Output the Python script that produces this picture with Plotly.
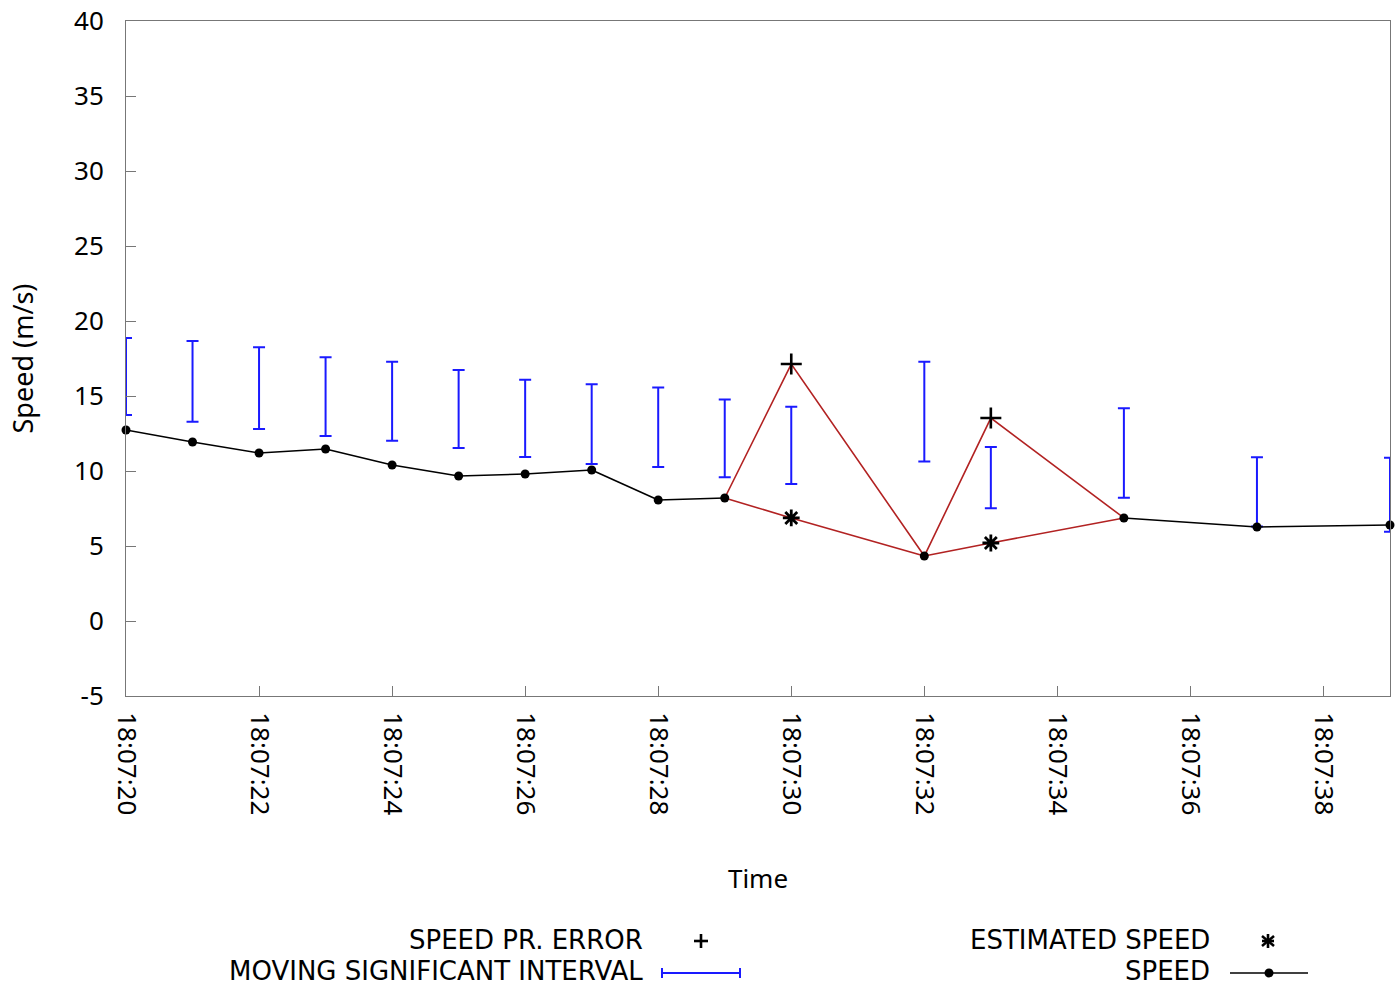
import plotly.graph_objects as go

# Time in seconds after 18:07:00
speed_t = [20, 21, 22, 23, 24, 25, 26, 27, 28, 29, 32, 35, 37, 39]
speed_v = [12.73, 11.93, 11.2, 11.47, 10.4, 9.67, 9.8, 10.07, 8.07, 8.2, 4.33, 6.87, 6.27, 6.4]

# Samples flagged as speed errors and the estimates that replace them
err_t = [30, 33]
err_v = [17.13, 13.53]
est_v = [6.87, 5.2]

# Moving significant interval (upper / lower bound)
int_t = [20, 21, 22, 23, 24, 25, 26, 27, 28, 29, 30, 32, 33, 35, 37, 39]
int_hi = [18.87, 18.67, 18.25, 17.58, 17.29, 16.73, 16.09, 15.78, 15.56, 14.76,
          14.29, 17.29, 11.6, 14.18, 10.91, 10.89]
int_lo = [13.73, 13.29, 12.8, 12.33, 12.02, 11.53, 10.93, 10.47, 10.27, 9.58,
          9.13, 10.64, 7.51, 8.22, 6.3, 5.95]

x_tickvals = [20, 22, 24, 26, 28, 30, 32, 34, 36, 38]
x_ticktext = ["18:07:20", "18:07:22", "18:07:24", "18:07:26", "18:07:28",
              "18:07:30", "18:07:32", "18:07:34", "18:07:36", "18:07:38"]
y_tickvals = [-5, 0, 5, 10, 15, 20, 25, 30, 35, 40]
y_ticktext = ["-5", "0", "5", "10", "15", "20", "25", "30", "35", "40"]

W, H = 1395, 987
FONT = "Noto Sans"
KEY_FONT = "DejaVu Sans"
BLUE = "#1a1aff"
RED = "#b22222"

fig = go.Figure()

# Intervals: vertical bars with caps from lower to upper bound
fig.add_trace(go.Scatter(
    x=int_t, y=int_lo, mode="markers",
    marker=dict(size=1, opacity=0),
    error_y=dict(type="data", array=[h - l for h, l in zip(int_hi, int_lo)],
                 arrayminus=[0] * len(int_t), symmetric=False,
                 color=BLUE, thickness=2, width=6),
    cliponaxis=True, showlegend=False, hoverinfo="skip"))

# Split the speed series: normal segments in black, corrected spans in red
black_x, black_y, red_x, red_y = [], [], [], []
for i in range(len(speed_t) - 1):
    t0, t1 = speed_t[i], speed_t[i + 1]
    inside = [k for k, t in enumerate(err_t) if t0 < t < t1]
    if inside:
        k = inside[0]
        for mid in (err_v[k], est_v[k]):
            red_x += [t0, err_t[k], t1, None]
            red_y += [speed_v[i], mid, speed_v[i + 1], None]
    else:
        black_x += [t0, t1, None]
        black_y += [speed_v[i], speed_v[i + 1], None]

fig.add_trace(go.Scatter(x=red_x, y=red_y, mode="lines",
                         line=dict(color=RED, width=1.6),
                         showlegend=False, hoverinfo="skip"))
fig.add_trace(go.Scatter(x=black_x, y=black_y, mode="lines",
                         line=dict(color="black", width=1.6),
                         showlegend=False, hoverinfo="skip"))
fig.add_trace(go.Scatter(x=speed_t, y=speed_v, mode="markers",
                         marker=dict(color="black", size=9),
                         cliponaxis=False, showlegend=False))
fig.add_trace(go.Scatter(x=err_t, y=err_v, mode="markers",
                         marker=dict(symbol="cross-thin-open", size=15, color="black",
                                     line=dict(color="black", width=2.6)),
                         cliponaxis=False, showlegend=False))
fig.add_trace(go.Scatter(x=err_t, y=est_v, mode="markers",
                         marker=dict(symbol="asterisk-open", size=14, color="black",
                                     line=dict(color="black", width=2.8)),
                         cliponaxis=False, showlegend=False))

x0, x1 = 126 / W, 1390 / W
y0, y1 = 1 - 696 / H, 1 - 21 / H

axis_common = dict(showgrid=False, zeroline=False, showline=True, mirror=True,
                   linecolor="#777777", linewidth=1, ticks="inside", ticklen=10,
                   tickcolor="#777777", tickwidth=1,
                   tickfont=dict(family=FONT, size=26, color="black"))

fig.update_layout(
    width=W, height=H,
    margin=dict(l=0, r=0, t=0, b=0),
    paper_bgcolor="white", plot_bgcolor="white",
    xaxis=dict(domain=[x0, x1], range=[20, 39], tickmode="array",
               tickvals=x_tickvals, ticktext=x_ticktext, tickangle=90,
               ticklabelstandoff=10, automargin=False,
               title=dict(text="Time", font=dict(family=FONT, size=26, color="black"),
                          standoff=55),
               **axis_common),
    yaxis=dict(domain=[y0, y1], range=[-5, 40], tickmode="array",
               tickvals=y_tickvals, ticktext=y_ticktext,
               ticklabelstandoff=16, automargin=False,
               title=dict(text="Speed (m/s)", font=dict(family=FONT, size=27, color="black"),
                          standoff=32),
               **axis_common),
)

# Key below the chart: right-aligned labels with their symbol samples
def px(x):
    return x / W


def py(y):
    return 1 - y / H


legend_font = dict(family=KEY_FONT, size=26, color="black")
for text, xr, yc in [("SPEED PR. ERROR", 645, 940),
                     ("MOVING SIGNIFICANT INTERVAL", 645, 971),
                     ("ESTIMATED SPEED", 1212, 940),
                     ("SPEED", 1212, 971)]:
    fig.add_annotation(x=px(xr), y=py(yc), xref="paper", yref="paper",
                       text=text, showarrow=False, xanchor="right",
                       yanchor="middle", font=legend_font)

shapes = []
def seg(xa, ya, xb, yb, color, width):
    shapes.append(dict(type="line", xref="paper", yref="paper",
                       x0=px(xa), y0=py(ya), x1=px(xb), y1=py(yb),
                       line=dict(color=color, width=width)))

# plus sample
seg(694, 941, 708, 941, "black", 2.6)
seg(701, 934, 701, 948, "black", 2.6)
# interval sample
seg(662, 973, 740, 973, BLUE, 2)
seg(662, 968, 662, 978, BLUE, 2)
seg(740, 968, 740, 978, BLUE, 2)
# asterisk sample
seg(1268, 934, 1268, 948, "black", 2.6)
seg(1262, 936, 1274, 946, "black", 2.6)
seg(1262, 946, 1274, 936, "black", 2.6)
seg(1262, 941, 1274, 941, "black", 2.6)
# speed sample
seg(1230, 973, 1308, 973, "black", 1.6)
shapes.append(dict(type="circle", xref="paper", yref="paper",
                   x0=px(1264.5), y0=py(968.5), x1=px(1273.5), y1=py(977.5),
                   fillcolor="black", line=dict(color="black", width=0)))
fig.update_layout(shapes=shapes)

fig.write_html("out.html")
